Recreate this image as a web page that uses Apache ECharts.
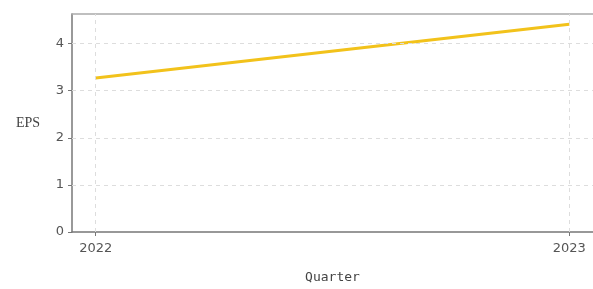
<!DOCTYPE html>
<html>
<head>
<meta charset="utf-8">
<script src="https://cdn.jsdelivr.net/npm/echarts@6/dist/echarts.min.js"></script>
<style>
  html, body { margin: 0; padding: 0; background: #fff; }
  #chart { width: 593px; height: 289px; }
</style>
</head>
<body>
<div id="chart"></div>
<script>
// data
var quarters = [2022, 2023];
var eps = [3.27, 4.41];
var yTicks = [0, 1, 2, 3, 4];

var sans = 'DejaVu Sans, sans-serif';
var mono = 'DejaVu Sans Mono, monospace';
var serif = 'Liberation Serif, serif';
var chart = echarts.init(document.getElementById('chart'));

chart.setOption({
  animation: false,
  grid: { left: 72, right: 0, top: 14, bottom: 51 },
  xAxis: [
    {
      type: 'value',
      min: 2021.95, max: 2023.05,
      name: 'Quarter',
      nameLocation: 'middle',
      nameGap: 39,
      nameTextStyle: { fontFamily: mono, fontSize: 13, color: '#444' },
      axisLine: { lineStyle: { color: '#777', width: 1.5 } },
      axisTick: { show: true, length: 4, customValues: quarters, lineStyle: { color: '#777' } },
      axisLabel: { customValues: quarters, fontFamily: sans, fontSize: 13, color: '#555', margin: 10,
        formatter: function (v) { return String(v); } },
      splitLine: { show: false }
    },
    {
      // only for the light top frame line
      type: 'value', position: 'top',
      min: 2021.95, max: 2023.05,
      axisLine: { show: true, lineStyle: { color: '#aaa', width: 1.5 } },
      axisTick: { show: false }, axisLabel: { show: false }, splitLine: { show: false }
    }
  ],
  yAxis: {
    type: 'value',
    min: 0, max: 4.63,
    name: 'EPS',
    nameLocation: 'middle',
    nameRotate: 0,
    nameGap: 32,
    nameTextStyle: { fontFamily: serif, fontSize: 14, color: '#444' },
    axisLine: { show: true, lineStyle: { color: '#777', width: 1.5 } },
    axisTick: { show: true, length: 4, customValues: yTicks, lineStyle: { color: '#777' } },
    axisLabel: { customValues: yTicks, fontFamily: sans, fontSize: 13, color: '#555', margin: 8 },
    splitLine: { show: false }
  },
  series: [
    {
      // dashed grid, kept under the data line
      type: 'line',
      data: [],
      z: 1,
      markLine: {
        silent: true,
        symbol: 'none',
        label: { show: false },
        lineStyle: { color: '#ddd', type: [4, 4], width: 1 },
        data: quarters.map(function (q) { return { xAxis: q }; })
          .concat(yTicks.slice(1).map(function (t) { return { yAxis: t }; }))
      }
    },
    {
      type: 'line',
      data: quarters.map(function (q, i) { return [q, eps[i]]; }),
      symbol: 'none',
      lineStyle: { color: '#f2c21b', width: 3 },
      z: 3
    }
  ]
});
</script>
</body>
</html>
